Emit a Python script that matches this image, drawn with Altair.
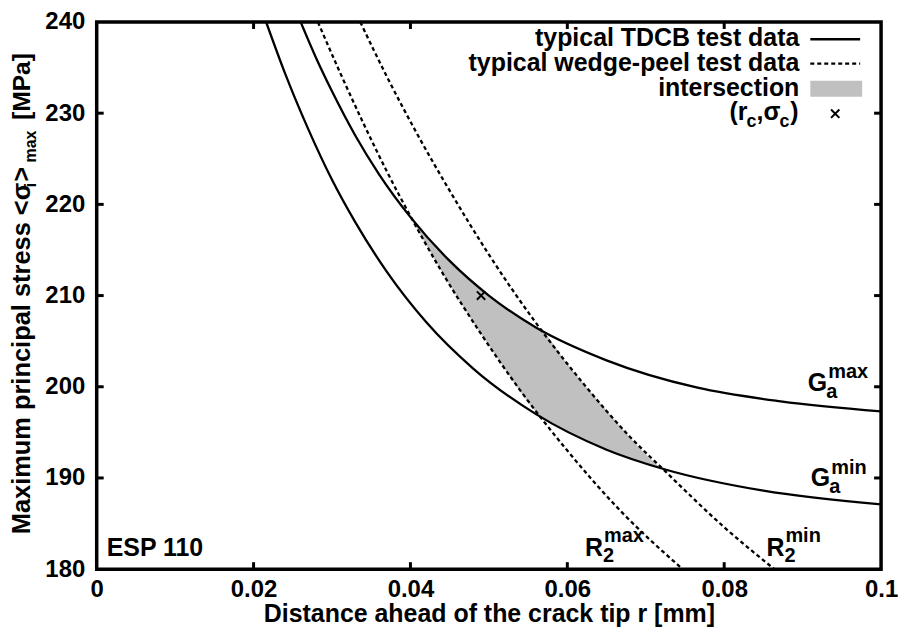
import altair as alt
import pandas as pd

# ---------------- values (r in mm, sigma in MPa) ----------------
ga_max_r = [0.0260, 0.0280, 0.0300, 0.0330, 0.0360, 0.0400, 0.0450, 0.0500, 0.0560, 0.0650, 0.0766, 0.0872, 0.1000]
ga_max_s = [240.0, 236.0, 232.4, 227.5, 223.3, 218.6, 213.8, 210.0, 206.5, 202.9, 199.9, 198.4, 197.3]

ga_min_r = [0.0216, 0.0240, 0.0270, 0.0300, 0.0330, 0.0370, 0.0420, 0.0480, 0.0560, 0.0650, 0.0726, 0.0850, 0.1000]
ga_min_s = [240.0, 234.4, 228.2, 222.7, 218.0, 212.6, 207.1, 202.0, 197.0, 193.1, 190.9, 188.6, 187.1]

r2_max_r = [0.0282, 0.0310, 0.0340, 0.0370, 0.0400, 0.0440, 0.0490, 0.0540, 0.0600, 0.0670, 0.0747]
r2_max_s = [240.0, 234.5, 228.9, 223.6, 218.7, 212.6, 205.8, 199.6, 193.0, 186.2, 180.0]

r2_min_r = [0.0336, 0.0370, 0.0410, 0.0450, 0.0500, 0.0560, 0.0620, 0.0680, 0.0724, 0.0800, 0.0864]
r2_min_s = [240.0, 234.0, 227.5, 221.5, 214.5, 207.0, 200.4, 194.5, 190.8, 184.6, 180.0]

fill_r = [0.0400, 0.0430, 0.0460, 0.0490, 0.0520, 0.0560, 0.0570, 0.0600, 0.0650, 0.0700, 0.0720]
fill_lo = [218.6, 214.1, 209.8, 205.8, 202.0, 197.3, 196.5, 195.1, 193.1, 191.6, 191.0]
fill_hi = [218.6, 215.6, 213.0, 210.7, 208.8, 206.5, 205.9, 202.5, 197.4, 192.6, 191.0]

crit_r = [0.049]
crit_s = [210.0]

x_ticks = [0, 0.02, 0.04, 0.06, 0.08, 0.1]
y_ticks = [180, 190, 200, 210, 220, 230, 240]
inner_x_ticks = [0.02, 0.04, 0.06, 0.08]
inner_y_ticks = [190, 200, 210, 220, 230]

legend_texts = ["typical TDCB test data", "typical wedge-peel test data", "intersection"]
x_title = "Distance ahead of the crack tip r [mm]"

# ---------------- layout ----------------
FONT = "Liberation Sans"
PAD_L, PAD_T = 89, 13
W, H = 787, 549
PX0, PY0 = 8 + PAD_L, 8 + PAD_T          # page position of the plot origin
XMIN, XMAX, YMIN, YMAX = 0.0, 0.1, 180.0, 240.0


def rx(px):
    return XMIN + (px - PX0) / W * (XMAX - XMIN)


def sy(py):
    return YMAX - (py - PY0) / H * (YMAX - YMIN)


xs = alt.Scale(domain=[XMIN, XMAX], nice=False, zero=False)
ys = alt.Scale(domain=[YMIN, YMAX], nice=False, zero=False)
xaxis = alt.Axis(values=x_ticks, format="~g", labelBaseline="alphabetic", labelPadding=27,
                 labelFlush=False, titleX=W / 2, titleY=53, titleAlign="center",
                 titleBaseline="alphabetic")
yaxis = alt.Axis(values=y_ticks, format="d", labelPadding=12, labelBaseline="middle")
X = alt.X("r:Q", scale=xs, axis=xaxis, title=x_title)
Y = alt.Y("s:Q", scale=ys, axis=yaxis, title="")

# ---------------- tables ----------------
rows = []
for name, rr, ss, kind in [("Ga_max", ga_max_r, ga_max_s, "solid"),
                           ("Ga_min", ga_min_r, ga_min_s, "solid"),
                           ("R2_max", r2_max_r, r2_max_s, "dashed"),
                           ("R2_min", r2_min_r, r2_min_s, "dashed")]:
    for a, b in zip(rr, ss):
        rows.append({"curve": name, "kind": kind, "r": a, "s": b})
curves = pd.DataFrame(rows)
fill = pd.DataFrame({"r": fill_r, "s": fill_lo, "s2": fill_hi})
crit = pd.DataFrame({"r": crit_r, "s": crit_s})

XSHAPE = "M-1,-1L1,1M-1,1L1,-1"

area = alt.Chart(fill).mark_area(color="#c0c0c0", interpolate="monotone", opacity=1).encode(
    x=X, y=Y, y2="s2:Q")
solid = alt.Chart(curves).transform_filter(alt.datum.kind == "solid").mark_line(
    color="black", strokeWidth=2.3, interpolate="monotone", clip=True).encode(
    x=X, y=Y, detail="curve:N", order="r:Q")
dashed = alt.Chart(curves).transform_filter(alt.datum.kind == "dashed").mark_line(
    color="black", strokeWidth=2.3, strokeDash=[4, 3], interpolate="monotone", clip=True).encode(
    x=X, y=Y, detail="curve:N", order="r:Q")
point = alt.Chart(crit).mark_point(shape=XSHAPE, size=70, strokeWidth=2, color="black",
                                   filled=False, opacity=1).encode(x=X, y=Y)


def text_layer(items, size, align):
    df = pd.DataFrame([{"t": t, "r": rx(px), "s": sy(py)} for t, px, py in items])
    return alt.Chart(df).mark_text(font=FONT, fontSize=size, fontWeight="bold", color="black",
                                   align=align, baseline="alphabetic").encode(x=X, y=Y, text="t:N")


big_right = text_layer([("G", 830, 391), ("G", 833, 487), ("R", 605, 557), ("R", 787, 557)], 25, "right")
small_left = text_layer([("max", 831, 378), ("a", 829, 398), ("min", 834, 475), ("a", 832, 494),
                         ("max", 606, 543), ("2", 605, 563), ("min", 788, 543), ("2", 787, 563)],
                        20, "left")
esp = text_layer([("ESP 110", 107, 557)], 25, "left")

# legend (top right, inside the frame)
leg_text = text_layer([(legend_texts[0], 802, 45.5), (legend_texts[1], 802, 70),
                       (legend_texts[2], 802, 95)], 25, "right")
leg_main = text_layer([("(r", 732, 119.5), (",σ", 759, 119.5), (")", 793, 119.5)], 25, "left")
leg_sub = text_layer([("c", 749, 126), ("c", 782, 126)], 18, "left")

leg_solid = alt.Chart(pd.DataFrame({"r": [rx(813)], "r2": [rx(863)], "s": [sy(38.3)]})).mark_rule(
    color="black", strokeWidth=2.3).encode(x=X, x2="r2:Q", y=Y)
leg_dash = alt.Chart(pd.DataFrame({"r": [rx(813)], "r2": [rx(863)], "s": [sy(62.7)]})).mark_rule(
    color="black", strokeWidth=2.3, strokeDash=[4, 3]).encode(x=X, x2="r2:Q", y=Y)
leg_box = alt.Chart(pd.DataFrame({"r": [rx(813)], "r2": [rx(865)], "s": [sy(80)], "s2": [sy(96)]})).mark_rect(
    color="#c0c0c0").encode(x=X, x2="r2:Q", y=Y, y2="s2:Q")
leg_pt = alt.Chart(pd.DataFrame({"r": [rx(838)], "s": [sy(113)]})).mark_point(
    shape=XSHAPE, size=70, strokeWidth=2, color="black", filled=False, opacity=1).encode(x=X, y=Y)

# y-axis title built from pieces so that the subscripts sit like the reference's
ytitle_parts = [("Maximum principal stress <σ", 25.5, 30, 535),
                ("i", 17, 36, 187),
                (">", 25, 30, 181),
                ("max", 16, 36, 162),
                ("[MPa]", 24.5, 30, 119)]
ytitle_layers = []
for txt, size, px, py in ytitle_parts:
    ytitle_layers.append(
        alt.Chart(pd.DataFrame({"t": [txt]})).mark_text(
            font=FONT, fontSize=size, fontWeight="bold", color="black", angle=270,
            align="left", baseline="alphabetic").encode(
            x=alt.value(px - PX0), y=alt.value(py - PY0), text="t:N"))

# inward (mirrored) tick marks
TL = 7
xt = pd.DataFrame({"r": inner_x_ticks})
yt = pd.DataFrame({"s": inner_y_ticks})
tick_b = alt.Chart(xt).mark_rule(color="black", strokeWidth=3).encode(
    x=X, y=alt.value(H), y2=alt.value(H - TL))
tick_t = alt.Chart(xt).mark_rule(color="black", strokeWidth=3).encode(
    x=X, y=alt.value(0), y2=alt.value(TL))
tick_l = alt.Chart(yt).mark_rule(color="black", strokeWidth=3).encode(
    y=Y, x=alt.value(0), x2=alt.value(TL))
tick_r = alt.Chart(yt).mark_rule(color="black", strokeWidth=3).encode(
    y=Y, x=alt.value(W), x2=alt.value(W - TL))

chart = alt.layer(
    area, solid, dashed, point, big_right, small_left, esp,
    leg_text, leg_main, leg_sub, leg_solid, leg_dash, leg_box, leg_pt,
    tick_b, tick_t, tick_l, tick_r, *ytitle_layers,
).properties(
    width=W, height=H,
    autosize=alt.AutoSizeParams(type="none"),
    padding={"left": PAD_L, "top": PAD_T, "right": 20, "bottom": 57},
    background="white",
).configure_view(
    stroke="black", strokeWidth=3.5
).configure_axis(
    domain=False, ticks=False, tickSize=0, grid=False,
    labelFont=FONT, labelFontSize=24, labelFontWeight="bold", labelColor="black",
    titleFont=FONT, titleFontSize=25, titleFontWeight="bold", titleColor="black",
)

chart.save("out.html", embed_options={"renderer": "svg", "actions": False})
